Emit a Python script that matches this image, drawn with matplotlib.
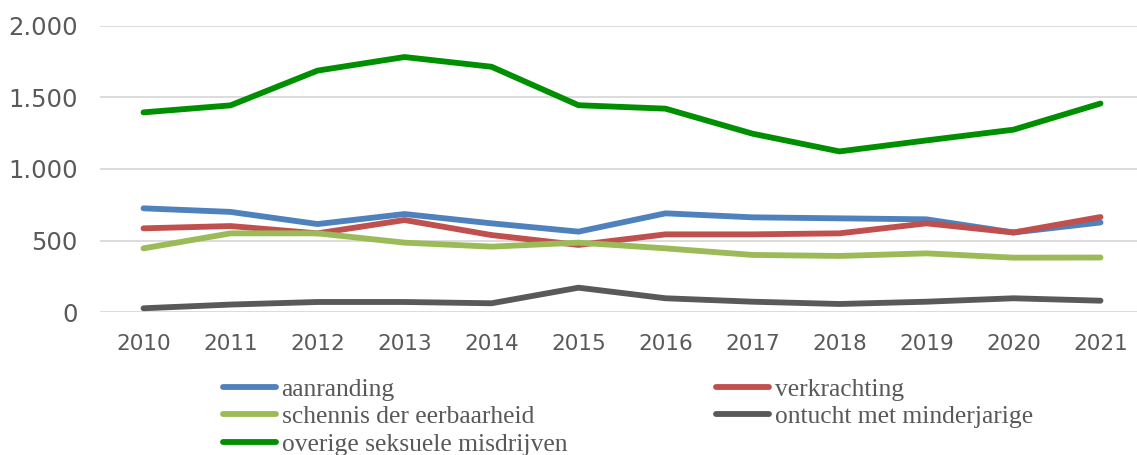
import matplotlib.pyplot as plt
from matplotlib.ticker import FuncFormatter

years = ["2010", "2011", "2012", "2013", "2014", "2015",
         "2016", "2017", "2018", "2019", "2020", "2021"]
aanranding = [725, 700, 615, 685, 620, 562, 690, 662, 655, 648, 556, 626]
verkrachting = [585, 601, 550, 643, 538, 469, 543, 543, 550, 620, 556, 664]
schennis = [445, 550, 550, 485, 457, 485, 445, 399, 392, 410, 380, 381]
ontucht = [26, 52, 70, 70, 61, 170, 96, 72, 56, 72, 96, 79]
overige = [1396, 1445, 1688, 1783, 1715, 1446, 1422, 1247, 1123, 1200, 1275, 1458]

W, H = 1137, 455
fig = plt.figure(figsize=(W / 100, H / 100), dpi=100)
ax = fig.add_axes([100 / W, 1 - 312 / H, 1044 / W, (312 - 26) / H])

x = range(len(years))
lw = 4.2
l1, = ax.plot(x, aanranding, color="#4F81BD", lw=lw, solid_capstyle="round", label="aanranding")
l2, = ax.plot(x, verkrachting, color="#C0504D", lw=lw, solid_capstyle="round", label="verkrachting")
l3, = ax.plot(x, schennis, color="#9BBB59", lw=lw, solid_capstyle="round", label="schennis der eerbaarheid")
l4, = ax.plot(x, ontucht, color="#595959", lw=lw, solid_capstyle="round", label="ontucht met minderjarige")
l5, = ax.plot(x, overige, color="#008F00", lw=lw, solid_capstyle="round", label="overige seksuele misdrijven")

ax.set_xlim(-0.5, len(years) - 0.5)
ax.set_ylim(0, 2000)
ax.set_yticks([0, 500, 1000, 1500, 2000])
ax.yaxis.set_major_formatter(FuncFormatter(lambda v, p: f"{int(v):,}".replace(",", ".")))
ax.set_xticks(list(x))
ax.set_xticklabels(years)
ax.grid(axis="y", color="#D9D9D9", lw=1.3)
ax.set_axisbelow(True)
for s in ax.spines.values():
    s.set_visible(False)
ax.tick_params(axis="y", length=0, pad=16, labelsize=17.5, labelcolor="#595959")
ax.tick_params(axis="x", length=0, pad=16, labelsize=15.5, labelcolor="#595959")

# legend in two columns, placed by hand like the original
leg_font = {"family": "Liberation Serif", "size": 18.4}
common = dict(frameon=False, borderpad=0, handlelength=2.1, handletextpad=0.2,
              labelspacing=0.18, prop=leg_font, labelcolor="#595959", loc="upper left")
leg1 = fig.legend(handles=[l1, l3, l5], bbox_to_anchor=(210 / W, 1 - 365 / H), **common)
leg2 = fig.legend(handles=[l2, l4], bbox_to_anchor=(703 / W, 1 - 365 / H), **common)

fig.savefig("out.png", dpi=100)
